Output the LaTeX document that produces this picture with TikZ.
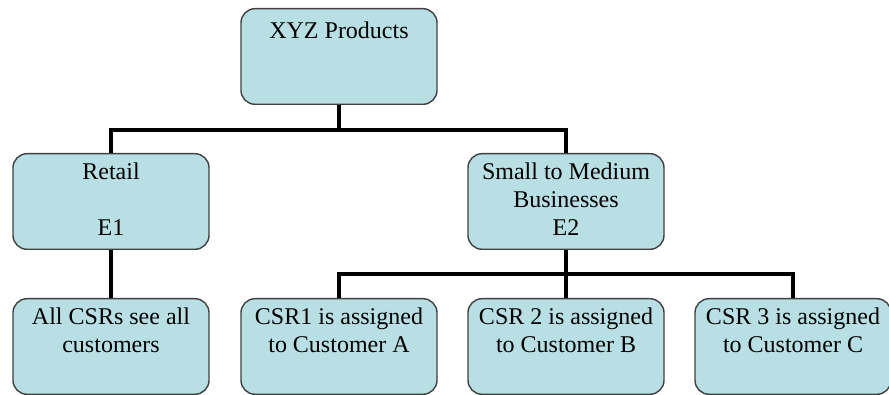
\documentclass[tikz,border=0pt]{standalone}
\usepackage{fontspec}
\setmainfont{Liberation Serif}
\definecolor{boxblue}{RGB}{184,223,228}
\newcommand{\toplines}[1]{\begin{tabular}[t]{@{}c@{}}#1\end{tabular}}
\begin{document}
\begin{tikzpicture}[x=0.5pt, y=-0.5pt,
    unit/.style={draw=black!75, line width=0.7pt, fill=boxblue, rounded corners=7pt,
      anchor=north, minimum width=98pt, inner sep=3pt,
      text height=10pt, text depth=31.8pt, font=\fontsize{12}{14}\selectfont},
    link/.style={line width=2.2pt}]
    \useasboundingbox (0,0) rectangle (889,395);

    % Top level
    \node[unit, text height=12pt, text depth=29.8pt] (xyz) at (339,8) {\toplines{XYZ Products}};

    % Segments
    \node[unit] (retail) at (111,153) {\toplines{Retail\\ \\E1}};
    \node[unit] (sme) at (566,153) {\toplines{Small to Medium\\Businesses\\E2}};

    % Assignments
    \node[unit] (all) at (111,298) {\toplines{All CSRs see all\\customers}};
    \node[unit] (csr1) at (339,298) {\toplines{CSR1 is assigned\\to Customer A}};
    \node[unit] (csr2) at (566,298) {\toplines{CSR 2 is assigned\\to Customer B}};
    \node[unit] (csr3) at (793,298) {\toplines{CSR 3 is assigned\\to Customer C}};

    % Links
    \draw[link] (xyz.south) -- ++(0,25) -| (retail.north);
    \draw[link] (xyz.south) -- ++(0,25) -| (sme.north);
    \draw[link] (retail.south) -- (all.north);
    \draw[link] (sme.south) -- ++(0,24) -| (csr1.north);
    \draw[link] (sme.south) -- ++(0,24) -| (csr3.north);
    \draw[link] (sme.south) -- (csr2.north);
\end{tikzpicture}
\end{document}
